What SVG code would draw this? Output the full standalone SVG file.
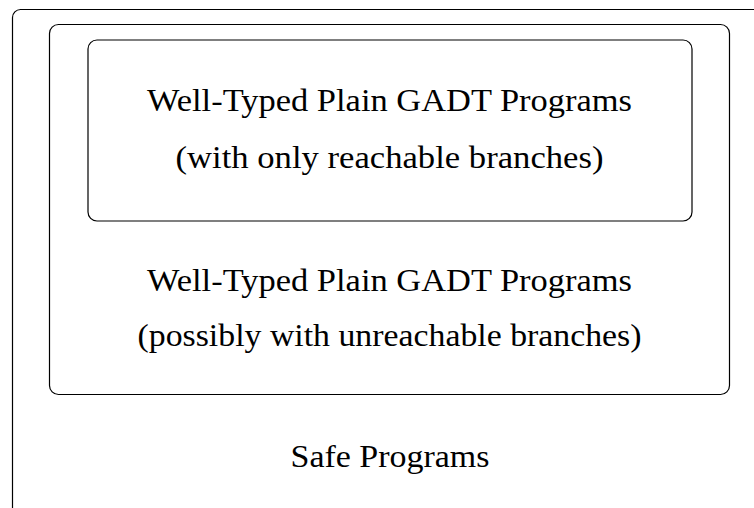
<svg xmlns="http://www.w3.org/2000/svg" width="754" height="508" viewBox="0 0 754 508">
<style>
.box{fill:none;stroke:#000;stroke-width:1.2}
.t{font-family:"Liberation Serif","Times New Roman",serif;font-size:31px;fill:#000;text-anchor:middle}
</style>
<rect width="754" height="508" fill="#fff"/>
<g id="safe">
<path class="box" d="M12.5,508 V17.5 A8,8 0 0 1 20.5,9.5 H754"/>
<text class="t" x="390" y="467" textLength="199" lengthAdjust="spacingAndGlyphs">Safe Programs</text>
</g>
<g id="welltyped">
<rect class="box" x="49.5" y="24.5" width="680" height="370" rx="9"/>
<text class="t" x="389.5" y="291" textLength="485" lengthAdjust="spacingAndGlyphs">Well-Typed Plain GADT Programs</text>
<text class="t" x="389.5" y="346" textLength="504" lengthAdjust="spacingAndGlyphs">(possibly with unreachable branches)</text>
</g>
<g id="reachable">
<rect class="box" x="88" y="40" width="604" height="181" rx="9"/>
<text class="t" x="389.5" y="111" textLength="485" lengthAdjust="spacingAndGlyphs">Well-Typed Plain GADT Programs</text>
<text class="t" x="389.5" y="168" textLength="428" lengthAdjust="spacingAndGlyphs">(with only reachable branches)</text>
</g>
<g id="connectors"/>
</svg>
